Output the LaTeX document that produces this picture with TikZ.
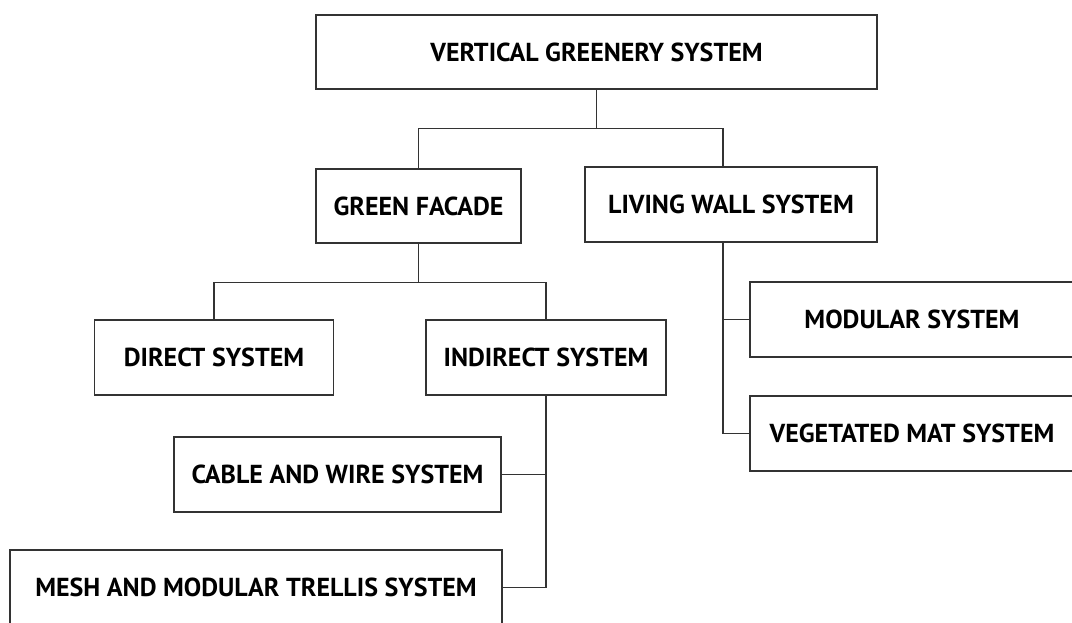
\documentclass[tikz,border=0pt]{standalone}
\usepackage{fontspec}
\setmainfont{PT Sans}

\begin{document}
\begin{tikzpicture}[x=1pt,y=-1pt,
  sysbox/.style={draw=black!80,line width=1.3pt,fill=white,inner sep=0pt,
    minimum height=75pt,font=\fontsize{26}{30}\selectfont\bfseries},
  link/.style={draw=black!80,line width=1.3pt},
]
\useasboundingbox (0,0) rectangle (1072,622);
\node[sysbox,minimum width=561pt,minimum height=74pt] (vgs) at (596.5,52) {VERTICAL GREENERY SYSTEM};
\node[sysbox,minimum width=205pt,minimum height=74pt] (facade) at (418.5,206) {GREEN FACADE};
\node[sysbox,minimum width=292pt] (livingwall) at (731,204.5) {LIVING WALL SYSTEM};
\node[sysbox,minimum width=239pt] (direct) at (214,357.5) {DIRECT SYSTEM};
\node[sysbox,minimum width=240pt] (indirect) at (546,357.5) {INDIRECT SYSTEM};
\node[sysbox,minimum width=324pt] (modular) at (912,319.5) {MODULAR SYSTEM};
\node[sysbox,minimum width=324pt] (vegmat) at (912,433.5) {VEGETATED MAT SYSTEM};
\node[sysbox,minimum width=327pt] (cable) at (337.5,474.5) {CABLE AND WIRE SYSTEM};
\node[sysbox,minimum width=492pt] (mesh) at (256,587.5) {MESH AND MODULAR TRELLIS SYSTEM};

\draw[link] (vgs.south) -- ++(0,39) coordinate (vgsfork);
\coordinate (lwtop) at ([xshift=-8pt]livingwall.north);
\draw[link] (facade.north) |- (vgsfork) -| (lwtop);

\draw[link] (facade.south) -- ++(0,39) coordinate (gffork);
\draw[link] (direct.north) |- (gffork) -| (indirect.north);

\draw[link] (indirect.south) |- (mesh.east);
\draw[link] (cable.east) -- (cable.east -| indirect.south);

\coordinate (lwbottom) at ([xshift=-8pt]livingwall.south);
\draw[link] (lwbottom) |- (vegmat.west);
\draw[link] (modular.west) -- (modular.west -| lwbottom);
\end{tikzpicture}
\end{document}
